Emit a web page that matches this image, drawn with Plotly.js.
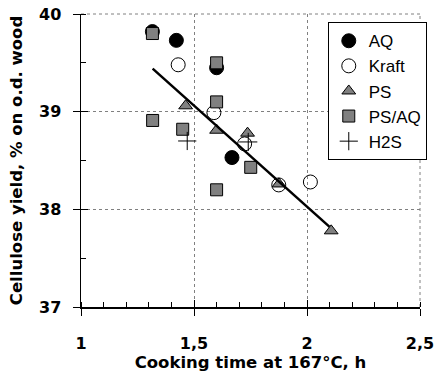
<!DOCTYPE html>
<html>
<head>
<meta charset="utf-8">
<script src="https://cdn.plot.ly/plotly-3.0.1.min.js"></script>
<style>html,body{margin:0;padding:0;background:#fff;}#chart{width:439px;height:374px;}</style>
</head>
<body>
<div id="chart"></div>
<script>
// ---- data ----
const aqX = [1.316, 1.422, 1.600, 1.668];
const aqY = [39.82, 39.73, 39.45, 38.53];

const kraftX = [1.430, 1.588, 1.724, 1.875, 2.015];
const kraftY = [39.48, 38.99, 38.67, 38.25, 38.28];

const psX = [1.463, 1.600, 1.737, 1.876, 2.107];
const psY = [39.06, 38.81, 38.78, 38.26, 37.78];

const psaqX = [1.316, 1.600, 1.317, 1.450, 1.600, 1.751, 1.600];
const psaqY = [39.80, 39.50, 38.91, 38.82, 39.10, 38.43, 38.20];

const h2sX = [1.470, 1.740];
const h2sY = [38.70, 38.69];

const trendX = [1.317, 2.100];
const trendY = [39.44, 37.82];

const xTickVals = [1, 1.5, 2, 2.5];
const xTickText = ['1', '1,5', '2', '2,5'];
const yTickVals = [37, 38, 39, 40];
const yTickText = ['37', '38', '39', '40'];

const seriesNames = ['AQ', 'Kraft', 'PS', 'PS/AQ', 'H2S'];

// ---- chart ----
const FONT = 'Liberation Sans, Arial, sans-serif';
const BOLDFONT = 'DejaVu Sans, Liberation Sans, Arial, sans-serif';
const grey = '#808080';

const traces = [
  {x: aqX, y: aqY, name: seriesNames[0], type: 'scatter', mode: 'markers',
   marker: {symbol: 'circle', size: 14, color: '#000', line: {color: '#000', width: 1}}},
  {x: kraftX, y: kraftY, name: seriesNames[1], type: 'scatter', mode: 'markers',
   marker: {symbol: 'circle', size: 14, color: 'rgba(255,255,255,0)', line: {color: '#000', width: 1}}},
  {x: psX, y: psY, name: seriesNames[2], type: 'scatter', mode: 'markers',
   marker: {symbol: 'triangle-up', size: 12, color: grey, line: {color: '#000', width: 1}}},
  {x: psaqX, y: psaqY, name: seriesNames[3], type: 'scatter', mode: 'markers',
   marker: {symbol: 'square', size: 12, color: grey, line: {color: '#000', width: 1}}},
  {x: h2sX, y: h2sY, name: seriesNames[4], type: 'scatter', mode: 'markers',
   marker: {symbol: 'cross-thin', size: 13, color: '#000', line: {color: '#000', width: 1}}},
  {x: trendX, y: trendY, type: 'scatter', mode: 'lines', showlegend: false,
   line: {color: '#000', width: 2.5}}
];

const tickFont = {family: BOLDFONT, size: 16, color: '#000', weight: 'bold'};
const titleFont = {family: BOLDFONT, size: 16.5, color: '#000', weight: 'bold'};

const layout = {
  width: 439, height: 374,
  margin: {l: 81, r: 16, t: 14, b: 67},
  paper_bgcolor: '#fff', plot_bgcolor: '#fff',
  showlegend: true,
  legend: {
    x: 1.02, y: 0.972, xanchor: 'right', yanchor: 'top',
    bgcolor: '#fff', bordercolor: '#000', borderwidth: 1,
    font: {family: FONT, size: 17, color: '#000'},
    itemwidth: 30, tracegroupgap: 0
  },
  xaxis: {
    range: [1, 2.5], tickmode: 'array', tickvals: xTickVals, ticktext: xTickText,
    ticks: 'outside', ticklen: 7, tickwidth: 1, tickcolor: '#000',
    ticklabelstandoff: 14,
    showline: true, linecolor: '#000', linewidth: 1.5,
    showgrid: true, gridcolor: grey, griddash: 'dot', gridwidth: 1,
    zeroline: false, tickfont: tickFont,
    minor: {tickmode: 'linear', tick0: 1, dtick: 0.1, ticks: 'inside', ticklen: 5, tickcolor: '#000', showgrid: false},
    title: {text: 'Cooking time at 167°C, h', font: titleFont, standoff: 0}
  },
  yaxis: {
    range: [37, 40], tickmode: 'array', tickvals: yTickVals, ticktext: yTickText,
    ticks: 'outside', ticklen: 7, tickwidth: 1, tickcolor: '#000',
    ticklabelstandoff: 8,
    showline: true, linecolor: '#000', linewidth: 1.5,
    showgrid: true, gridcolor: grey, griddash: 'dot', gridwidth: 1,
    zeroline: false, tickfont: tickFont,
    minor: {tickmode: 'linear', tick0: 37, dtick: 0.5, ticks: 'inside', ticklen: 5, tickcolor: '#000', showgrid: false},
    title: {text: 'Cellulose yield, % on o.d. wood', font: titleFont, standoff: 12}
  },
  xaxis2: {
    overlaying: 'x', matches: 'x', range: [1, 2.5], tickmode: 'array', tickvals: xTickVals,
    ticks: 'inside', ticklen: 7, tickcolor: '#000', showticklabels: false,
    showgrid: false, zeroline: false, showline: false
  },
  yaxis2: {
    overlaying: 'y', matches: 'y', range: [37, 40], tickmode: 'array', tickvals: yTickVals,
    ticks: 'inside', ticklen: 7, tickcolor: '#000', showticklabels: false,
    showgrid: false, zeroline: false, showline: false
  },
  shapes: [
    {type: 'line', xref: 'paper', yref: 'paper', x0: 0, x1: 1, y0: 1, y1: 1,
     line: {color: grey, width: 1, dash: 'dot'}, layer: 'below'},
    {type: 'line', xref: 'paper', yref: 'paper', x0: 1, x1: 1, y0: 0, y1: 1,
     line: {color: grey, width: 1, dash: 'dot'}, layer: 'below'}
  ]
};

// invisible helper trace to activate the overlay axes (carries no data marks)
traces.push({x: [], y: [], xaxis: 'x2', yaxis: 'y2', type: 'scatter', mode: 'markers', showlegend: false, hoverinfo: 'skip'});

Plotly.newPlot('chart', traces, layout, {staticPlot: true, displayModeBar: false});
</script>
</body>
</html>
